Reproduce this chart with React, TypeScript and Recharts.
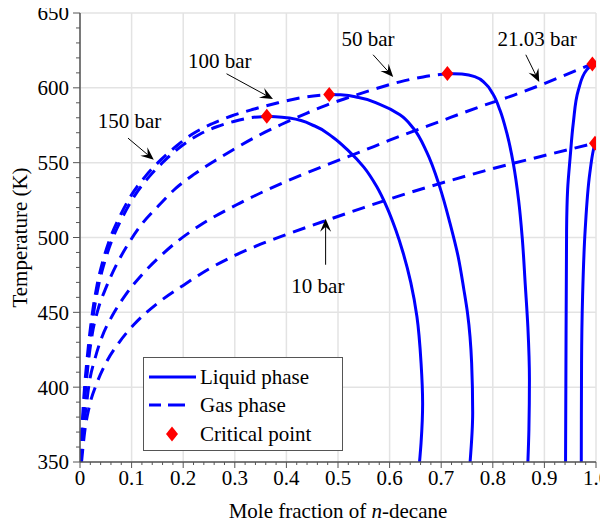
import React from "react";
import {
  ComposedChart,
  Line,
  Scatter,
  XAxis,
  YAxis,
  CartesianGrid,
  Legend,
  ReferenceLine,
  ReferenceDot,
  Label,
} from "recharts";

// gas phase (dashed) branches, x = mole fraction of n-decane, T in K
const gas150X = [0.0015, 0.0045, 0.0075, 0.011, 0.0155, 0.021, 0.0275, 0.036, 0.048, 0.064, 0.083, 0.106, 0.135, 0.166, 0.2, 0.232, 0.265, 0.298, 0.33, 0.362];
const gas150T = [350, 370, 387, 403, 419, 436, 452, 468, 484, 500, 514, 528, 541, 552, 562, 569, 574, 577.5, 580, 581];

const gas100X = [0.001, 0.0035, 0.0062, 0.0095, 0.0138, 0.019, 0.025, 0.033, 0.044, 0.059, 0.077, 0.099, 0.127, 0.157, 0.19, 0.222, 0.256, 0.292, 0.334, 0.384, 0.43, 0.483];
const gas100T = [350, 370, 387, 403, 419, 436, 452, 468, 484, 500, 514, 528, 541, 552, 562, 570, 576, 581, 585.5, 590, 593.5, 595.5];

const gas50X = [0.002, 0.005, 0.008, 0.012, 0.017, 0.024, 0.035, 0.051, 0.071, 0.094, 0.121, 0.153, 0.186, 0.22, 0.26, 0.296, 0.348, 0.39, 0.439, 0.478, 0.52, 0.56, 0.62, 0.665, 0.712];
const gas50T = [350, 370, 387, 403, 419, 436, 452, 467, 482, 496, 509.5, 521.5, 533, 542, 551, 558.5, 568.5, 575.5, 583, 588.5, 593.5, 598, 604, 607.3, 609.5];

const gas21X = [0.002, 0.006, 0.012, 0.018, 0.029, 0.042, 0.063, 0.089, 0.121, 0.154, 0.189, 0.232, 0.31, 0.393, 0.478, 0.542, 0.6, 0.697, 0.78, 0.84, 0.89, 0.94, 0.993];
const gas21T = [350, 370, 387, 403, 419, 433, 448, 462, 475.5, 487, 497.5, 508, 523, 536.5, 548.5, 557, 565, 577.5, 588, 595, 601.5, 608.5, 616];

const gas10X = [0.003, 0.009, 0.018, 0.033, 0.05, 0.076, 0.105, 0.15, 0.2, 0.25, 0.3, 0.35, 0.4, 0.478, 0.55, 0.607, 0.697, 0.8, 0.891, 0.998];
const gas10T = [350, 370, 387, 403, 416, 430, 442, 456, 468, 479, 488, 495.5, 502, 511.5, 520, 526.5, 536, 546, 554, 563];

// liquid phase (solid) branches, from 350 K up to the critical point
const liq150X = [0.658, 0.661, 0.664, 0.661, 0.653, 0.641, 0.626, 0.612, 0.595, 0.575, 0.55, 0.52, 0.49, 0.455, 0.406, 0.362];
const liq150T = [350, 363, 389, 416, 447, 470, 490, 505, 520, 534, 547, 558, 567, 574.5, 579.8, 581];

const liq100X = [0.756, 0.761, 0.759, 0.751, 0.744, 0.733, 0.717, 0.697, 0.672, 0.646, 0.62, 0.581, 0.54, 0.505, 0.483];
const liq100T = [350, 383, 416, 449.5, 465, 487, 509.6, 534, 557, 573, 582, 589, 593.5, 595.3, 595.5];

const liq50X = [0.868, 0.87, 0.871, 0.868, 0.863, 0.857, 0.85, 0.84, 0.827, 0.814, 0.8, 0.785, 0.765, 0.74, 0.712];
const liq50T = [350, 372, 405, 440, 468, 500, 525, 549, 570, 585, 596, 603, 607.5, 609.2, 609.5];

const liq21X = [0.941, 0.942, 0.943, 0.945, 0.95, 0.956, 0.966, 0.982, 0.993];
const liq21T = [350, 438, 505, 532, 554, 576.5, 598.7, 612, 616];

const liq10X = [0.9715, 0.972, 0.974, 0.979, 0.988, 0.995, 0.998];
const liq10T = [350, 416, 460.6, 505, 543, 558.6, 563];

const critX = [0.362, 0.483, 0.712, 0.993, 0.998];
const critT = [581, 595.5, 609.5, 616, 563];

const xMajor = [0, 0.1, 0.2, 0.3, 0.4, 0.5, 0.6, 0.7, 0.8, 0.9, 1.0];
const xTickLabels = ["0", "0.1", "0.2", "0.3", "0.4", "0.5", "0.6", "0.7", "0.8", "0.9", "1.0"];
const yMajor = [350, 400, 450, 500, 550, 600, 650];
const xMinor = Array.from({ length: 51 }, (_, i) => Number((i * 0.02).toFixed(2)));
const yMinor = Array.from({ length: 31 }, (_, i) => 350 + i * 10);

const legendItems = ["Liquid phase", "Gas phase", "Critical point"];

// pressure labels with their arrows (text pos, arrow tail, arrow head)
const notes = [
  { text: "150 bar", tx: 0.096, ty: 578, from: [0.093, 566.4], to: [0.143, 551.9] },
  { text: "100 bar", tx: 0.271, ty: 618, from: [0.284, 609.4], to: [0.374, 592.5] },
  { text: "50 bar", tx: 0.558, ty: 633, from: [0.568, 622.1], to: [0.607, 607.2] },
  { text: "21.03 bar", tx: 0.886, ty: 633, from: [0.864, 622.1], to: [0.89, 603.9] },
  { text: "10 bar", tx: 0.461, ty: 468, from: [0.476, 481.8], to: [0.476, 512.5] },
];

const FONT = '"Liberation Serif", "Times New Roman", serif';
const BLUE = "#0000ff";
const RED = "#ff0000";
const AXIS = "#555555";
const GRID = "#e3e3e3";

const pts = (xs: number[], ts: number[]) => xs.map((x, i) => ({ x, t: ts[i] }));

const gasSeries = [
  pts(gas150X, gas150T),
  pts(gas100X, gas100T),
  pts(gas50X, gas50T),
  pts(gas21X, gas21T),
  pts(gas10X, gas10T),
];
const liqSeries = [
  pts(liq150X, liq150T),
  pts(liq100X, liq100T),
  pts(liq50X, liq50T),
  pts(liq21X, liq21T),
  pts(liq10X, liq10T),
];
const critical = pts(critX, critT);

const isMajorX = (v: number) => Math.abs(v * 10 - Math.round(v * 10)) < 1e-6;

const XTick = (props: any) => {
  const { x, y, payload } = props;
  const v = payload.value;
  const major = isMajorX(v);
  return (
    <g>
      <line x1={x} x2={x} y1={y} y2={y + (major ? 6 : 3)} stroke={AXIS} strokeWidth={1} />
      {major && (
        <text x={x} y={y + 23} textAnchor="middle" fontFamily={FONT} fontSize={21} fill="#000">
          {xTickLabels[Math.round(v * 10)]}
        </text>
      )}
    </g>
  );
};

const YTick = (props: any) => {
  const { x, y, payload } = props;
  const v = payload.value;
  const major = v % 50 === 0;
  return (
    <g>
      <line x1={x} x2={x - (major ? 7 : 4)} y1={y} y2={y} stroke={AXIS} strokeWidth={1} />
      {major && (
        <text x={x - 11} y={y} dy="0.35em" textAnchor="end" fontFamily={FONT} fontSize={21} fill="#000">
          {v}
        </text>
      )}
    </g>
  );
};

const XTitle = (props: any) => {
  const vb = props.viewBox || {};
  const cx = (vb.x ?? 0) + (vb.width ?? 0) / 2;
  const y = (vb.y ?? 0) + 56;
  return (
    <text x={cx} y={y} textAnchor="middle" fontFamily={FONT} fontSize={21} fill="#000">
      Mole fraction of <tspan fontStyle="italic">n</tspan>-decane
    </text>
  );
};

const YTitle = (props: any) => {
  const vb = props.viewBox || {};
  const cx = (vb.x ?? 0) + 20;
  const cy = (vb.y ?? 0) + (vb.height ?? 0) / 2;
  return (
    <text
      x={cx}
      y={cy}
      transform={`rotate(-90 ${cx} ${cy})`}
      textAnchor="middle"
      dominantBaseline="central"
      fontFamily={FONT}
      fontSize={21}
      fill="#000"
    >
      Temperature (K)
    </text>
  );
};

const Diamond = (props: any) => {
  const { cx, cy } = props;
  return (
    <polygon
      points={`${cx},${cy - 7.5} ${cx + 6},${cy} ${cx},${cy + 7.5} ${cx - 6},${cy}`}
      fill={RED}
    />
  );
};

const Arrow = (props: any) => {
  const { x1, y1, x2, y2 } = props;
  const len = Math.hypot(x2 - x1, y2 - y1) || 1;
  const ux = (x2 - x1) / len;
  const uy = (y2 - y1) / len;
  const L = 13;
  const W = 5.5;
  const N = 8;
  const bx = x2 - ux * L;
  const by = y2 - uy * L;
  const nx = x2 - ux * N;
  const ny = y2 - uy * N;
  return (
    <g>
      <line x1={x1} y1={y1} x2={nx} y2={ny} stroke="#000" strokeWidth={1} />
      <polygon
        points={`${x2},${y2} ${bx - uy * W},${by + ux * W} ${nx},${ny} ${bx + uy * W},${by - ux * W}`}
        fill="#000"
      />
    </g>
  );
};

const noteText = (text: string) => (props: any) => (
  <text x={props.cx} y={props.cy} dy="0.35em" textAnchor="middle" fontFamily={FONT} fontSize={21} fill="#000">
    {text}
  </text>
);

const LegendBox = () => {
  const centers = [19, 47, 76];
  return (
    <div
      style={{
        width: 200,
        height: 94,
        boxSizing: "border-box",
        border: "1.5px solid #555",
        background: "#fff",
        position: "relative",
        fontFamily: FONT,
        fontSize: 21,
        color: "#000",
      }}
    >
      {legendItems.map((name, i) => (
        <div
          key={name}
          style={{
            position: "absolute",
            left: 0,
            top: centers[i] - 14,
            height: 28,
            display: "flex",
            alignItems: "center",
            whiteSpace: "nowrap",
          }}
        >
          <svg width={56} height={28} style={{ display: "block" }}>
            {i === 0 && <line x1={5} x2={52} y1={14} y2={14} stroke={BLUE} strokeWidth={3} />}
            {i === 1 && (
              <g stroke={BLUE} strokeWidth={3}>
                <line x1={5} x2={17} y1={14} y2={14} />
                <line x1={24} x2={41} y1={14} y2={14} />
              </g>
            )}
            {i === 2 && <Diamond cx={28} cy={14} />}
          </svg>
          <span style={{ lineHeight: 1 }}>{name}</span>
        </div>
      ))}
    </div>
  );
};

export default function App() {
  return (
    <div style={{ width: 608, height: 526, margin: -8 }}>
      <ComposedChart width={608} height={526} margin={{ top: 13, right: 12, bottom: 0, left: 0 }}>
        <CartesianGrid
          stroke={GRID}
          strokeWidth={1.5}
          verticalValues={xMajor}
          horizontalValues={yMajor}
        />
        <XAxis
          type="number"
          dataKey="x"
          domain={[0, 1]}
          ticks={xMinor}
          interval={0}
          tick={<XTick />}
          tickLine={false}
          tickSize={0}
          tickMargin={0}
          height={64}
          axisLine={{ stroke: AXIS, strokeWidth: 1.5 }}
          allowDataOverflow
        >
          <Label content={XTitle} />
        </XAxis>
        <YAxis
          type="number"
          dataKey="t"
          domain={[350, 650]}
          ticks={yMinor}
          interval={0}
          tick={<YTick />}
          tickLine={false}
          tickSize={0}
          tickMargin={0}
          width={80}
          axisLine={{ stroke: AXIS, strokeWidth: 1.5 }}
          allowDataOverflow
        >
          <Label content={YTitle} />
        </YAxis>

        {gasSeries.map((d, i) => (
          <Line
            key={`gas-${i}`}
            data={d}
            dataKey="t"
            type="monotoneX"
            stroke={BLUE}
            strokeWidth={3}
            strokeDasharray="13 8"
            dot={false}
            activeDot={false}
            isAnimationActive={false}
          />
        ))}
        {liqSeries.map((d, i) => (
          <Line
            key={`liq-${i}`}
            data={d}
            dataKey="t"
            type="monotoneY"
            stroke={BLUE}
            strokeWidth={3}
            dot={false}
            activeDot={false}
            isAnimationActive={false}
          />
        ))}
        <Scatter data={critical} dataKey="t" shape={<Diamond />} isAnimationActive={false} />

        {notes.map((n) => (
          <ReferenceLine
            key={`arrow-${n.text}`}
            segment={[
              { x: n.from[0], y: n.from[1] },
              { x: n.to[0], y: n.to[1] },
            ]}
            shape={Arrow}
            ifOverflow="visible"
          />
        ))}
        {notes.map((n) => (
          <ReferenceDot
            key={`label-${n.text}`}
            x={n.tx}
            y={n.ty}
            r={0}
            shape={noteText(n.text)}
            ifOverflow="visible"
          />
        ))}

        <Legend
          layout="vertical"
          align="center"
          verticalAlign="middle"
          content={<LegendBox />}
          wrapperStyle={{ left: 143, top: 357, width: 200, height: 94 }}
        />
      </ComposedChart>
    </div>
  );
}
